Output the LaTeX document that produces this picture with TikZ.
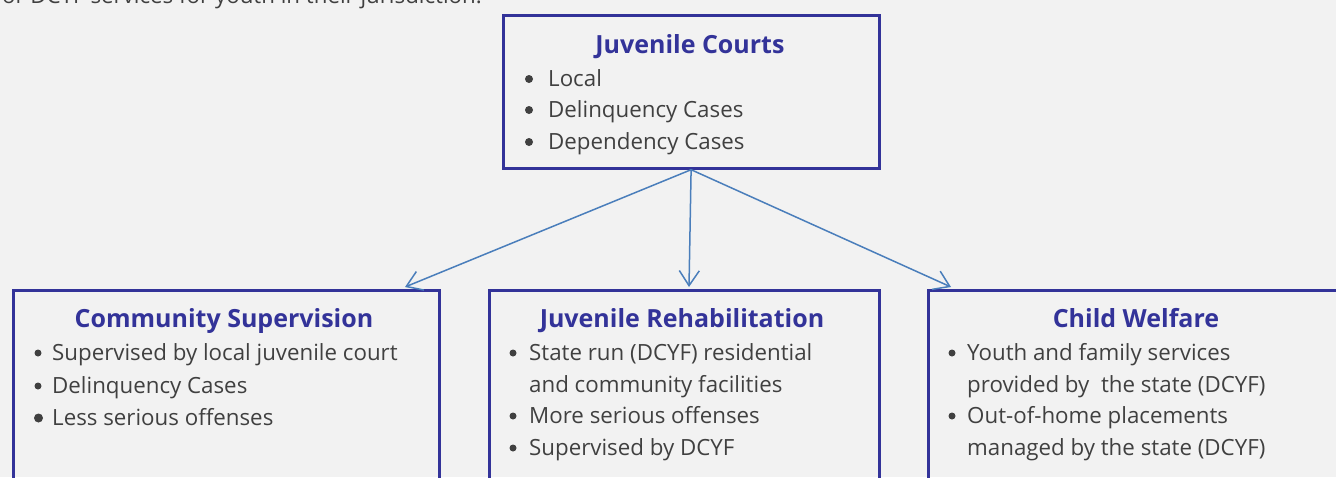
\documentclass[tikz,border=0pt]{standalone}
\usepackage{fontspec}
\setmainfont{Open Sans}
\usetikzlibrary{arrows.meta}
\definecolor{bg}{HTML}{F2F2F2}
\definecolor{boxc}{HTML}{333399}
\definecolor{txt}{HTML}{404040}
\definecolor{arr}{HTML}{4A7EBB}
\begin{document}
\begin{tikzpicture}[x=1pt,y=-1pt,
  box/.style={draw=boxc, line width=3.2pt, inner sep=0pt, anchor=north west},
  ttl/.style={font=\fontsize{25}{29}\selectfont\bfseries, text=boxc, anchor=base, inner sep=0pt},
  itm/.style={font=\fontsize{22.3}{27}\selectfont, text=txt, anchor=base west, inner sep=0pt},
  bul/.style={circle, fill=txt, inner sep=0pt, minimum size=#1},
  bul/.default=7pt,
  conn/.style={draw=arr, line width=1.5pt, -{Straight Barb[length=15pt,width=20pt,line width=1.5pt]}}]
\useasboundingbox (0,0) rectangle (1336,477);
\clip (0,0) rectangle (1336,477);
\fill[bg] (0,0) rectangle (1336,477);

% intro text (cut off at the top)
\node[itm, anchor=base east] (intro) at (482,3) {or DCYF services for youth in their jurisdiction.};

% boxes
\node[box, minimum width=376pt, minimum height=153pt] (jc) at (501.5,13.5) {};
\node[box, minimum width=426pt, minimum height=260pt] (cs) at (11.5,288.5) {};
\node[box, minimum width=390pt, minimum height=260pt] (jr) at (487.5,288.5) {};
\node[box, minimum width=500pt, minimum height=260pt] (cw) at (926.5,288.5) {};

% top box text
\node[ttl] (jct) at (690,53) {Juvenile Courts};
\node[bul=8pt] (jb1) at (529,79) {};
\node[itm] (jl1) at (548,86) {Local};
\node[bul=8pt] (jb2) at (529,110) {};
\node[itm] (jl2) at (548,117) {Delinquency Cases};
\node[bul=8pt] (jb3) at (529,142) {};
\node[itm] (jl3) at (548,149) {Dependency Cases};

% community supervision
\node[ttl] (cst) at (224,327) {Community Supervision};
\node[bul] (cb1) at (38,353) {};
\node[itm] (cl1) at (52,360) {Supervised by local juvenile court};
\node[bul] (cb2) at (38,386) {};
\node[itm] (cl2) at (52,393) {Delinquency Cases};
\node[bul=9pt] (cb3) at (38.5,418) {};
\node[itm] (cl3) at (52,425) {Less serious offenses};

% juvenile rehabilitation
\node[ttl] (jrt) at (682,327) {Juvenile Rehabilitation};
\node[bul] (rb1) at (513,353) {};
\node[itm] (rl1) at (529,360) {State run (DCYF) residential};
\node[itm] (rl1b) at (529,392) {and community facilities};
\node[bul] (rb2) at (513,416) {};
\node[itm] (rl2) at (529,423) {More serious offenses};
\node[bul] (rb3) at (513,448) {};
\node[itm] (rl3) at (529,455) {Supervised by DCYF};

% child welfare
\node[ttl] (cwt) at (1136,327) {Child Welfare};
\node[bul] (wb1) at (952,353) {};
\node[itm] (wl1) at (967,360) {Youth and family services};
\node[itm] (wl1b) at (967,392) {provided by\ \ the state (DCYF)};
\node[bul] (wb2) at (952,416) {};
\node[itm] (wl2) at (967,423) {Out-of-home placements};
\node[itm] (wl2b) at (967,455) {managed by the state (DCYF)};

% connectors
\coordinate (t1) at (405,287);
\coordinate (t2) at (689,287);
\coordinate (t3) at (951,287);
\draw[conn] (jc.south) -- (t1);
\draw[conn] (jc.south) -- (t2);
\draw[conn] (jc.south) -- (t3);
\end{tikzpicture}
\end{document}
